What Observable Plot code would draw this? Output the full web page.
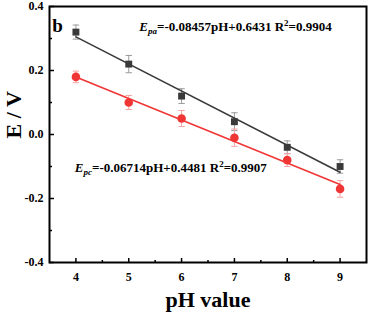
<!DOCTYPE html>
<html>
<head>
<meta charset="utf-8">
<script src="https://cdn.jsdelivr.net/npm/d3@7"></script>
<script src="https://cdn.jsdelivr.net/npm/@observablehq/plot@0.6"></script>
<style>
  html, body { margin: 0; padding: 0; background: #fff; }
  #chart { width: 370px; height: 314px; }
</style>
</head>
<body>
<div id="chart"></div>
<script>
// ---- data ----
const pH = [4, 5, 6, 7, 8, 9];
const epa = [0.32, 0.22, 0.12, 0.04, -0.04, -0.10];
const epaErr = [0.022, 0.027, 0.023, 0.028, 0.020, 0.021];
const epc = [0.18, 0.10, 0.05, -0.01, -0.08, -0.17];
const epcErr = [0.018, 0.022, 0.025, 0.027, 0.020, 0.026];

const fitX = [4, 9];
const fitPa = [0.305, -0.118];
const fitPc = [0.180, -0.156];

const xTicks = [4, 5, 6, 7, 8, 9];
const xMinor = [4.5, 5.5, 6.5, 7.5, 8.5];
const yTicks = [-0.4, -0.2, 0.0, 0.2, 0.4];
const yMinor = [-0.3, -0.1, 0.1, 0.3];

const eqSub = ["pa", "pc"];
const eqFormula = ["=-0.08457pH+0.6431", "=-0.06714pH+0.4481"];
const eqR2 = ["0.9904", "0.9907"];
const eqX = [5.2, 3.98];
const eqY = [0.338, -0.104];

const panelLabel = "b";
const xLabel = "pH value";
const yLabel = "E / V";

// ---- build tables ----
const pa = pH.map((x, i) => ({x, y: epa[i], e: epaErr[i]}));
const pc = pH.map((x, i) => ({x, y: epc[i], e: epcErr[i]}));
const fitA = fitX.map((x, i) => ({x, y: fitPa[i]}));
const fitC = fitX.map((x, i) => ({x, y: fitPc[i]}));
const eqs = eqSub.map((s, i) => ({x: eqX[i], y: eqY[i], sub: s, f: eqFormula[i], r2: eqR2[i]}));

const capSym = {draw(ctx, size) { const r = 3.2; ctx.moveTo(-r, 0); ctx.lineTo(r, 0); }};
const upTickMaj = {draw(ctx) { ctx.moveTo(0, 0); ctx.lineTo(0, -4.5); }};
const upTickMin = {draw(ctx) { ctx.moveTo(0, 0); ctx.lineTo(0, -2.5); }};
const rtTickMaj = {draw(ctx) { ctx.moveTo(0, 0); ctx.lineTo(4.5, 0); }};
const rtTickMin = {draw(ctx) { ctx.moveTo(0, 0); ctx.lineTo(2.5, 0); }};

const black = "#3a3a3a";
const red = "#f03535";
const FONT = "'Liberation Serif', 'Times New Roman', serif";

const errMarks = (data, color) => [
  Plot.ruleX(data, {x: "x", y1: d => d.y - d.e, y2: d => d.y + d.e, stroke: color, strokeWidth: 1}),
  Plot.dot(data, {x: "x", y: d => d.y + d.e, symbol: capSym, stroke: color, strokeWidth: 1, fill: "none"}),
  Plot.dot(data, {x: "x", y: d => d.y - d.e, symbol: capSym, stroke: color, strokeWidth: 1, fill: "none"})
];

const chart = Plot.plot({
  width: 370,
  height: 314,
  marginLeft: 49,
  marginRight: 4,
  marginTop: 6,
  marginBottom: 52,
  style: {fontFamily: FONT, background: "#fff", overflow: "visible"},
  x: {domain: [3.5, 9.5]},
  y: {domain: [-0.4, 0.4]},
  marks: [
    Plot.axisX({ticks: xTicks, tickSize: 0, tickPadding: 10, fontSize: 12, fontWeight: "bold", fill: "#000", label: null, tickFormat: d => String(d)}),
    Plot.axisY({ticks: yTicks, tickSize: 0, tickPadding: 6, fontSize: 12, fontWeight: "bold", fill: "#000", label: null, tickFormat: d => d.toFixed(1)}),
    Plot.dot(xTicks, {x: d => d, y: -0.4, symbol: upTickMaj, stroke: "#000", strokeWidth: 1.5, fill: "none"}),
    Plot.dot(xMinor, {x: d => d, y: -0.4, symbol: upTickMin, stroke: "#000", strokeWidth: 1.5, fill: "none"}),
    Plot.dot(yTicks, {x: 3.5, y: d => d, symbol: rtTickMaj, stroke: "#000", strokeWidth: 1.5, fill: "none"}),
    Plot.dot(yMinor, {x: 3.5, y: d => d, symbol: rtTickMin, stroke: "#000", strokeWidth: 1.5, fill: "none"}),
    ...errMarks(pa, "#9a9a9a"),
    ...errMarks(pc, "#f5a3a3"),
    Plot.line(fitA, {x: "x", y: "y", stroke: black, strokeWidth: 1.6}),
    Plot.line(fitC, {x: "x", y: "y", stroke: red, strokeWidth: 1.6}),
    Plot.dot(pa, {x: "x", y: "y", symbol: "square", r: 3.9, fill: black, stroke: "none"}),
    Plot.dot(pc, {x: "x", y: "y", symbol: "circle", r: 4.3, fill: red, stroke: "none"}),
    Plot.text(eqs, {x: "x", y: "y", text: d => "E" + d.sub + d.f + " R2=" + d.r2, textAnchor: "start", fontSize: 13, fontWeight: "bold", fill: "#000"}),
    Plot.text([panelLabel], {x: 3.55, y: 0.34, text: d => d, textAnchor: "start", fontSize: 19, fontWeight: "bold", fill: "#000"}),
    Plot.text([xLabel], {frameAnchor: "bottom", dy: 44, text: d => d, fontSize: 22, fontWeight: "bold", fill: "#000"}),
    Plot.text([yLabel], {frameAnchor: "left", dx: -36, dy: 4, rotate: -90, text: d => d, fontSize: 22, fontWeight: "bold", fill: "#000"}),
    Plot.frame({stroke: "#000", strokeWidth: 2})
  ]
});

// rich text for the fit equations (italic E with subscript, R with superscript)
d3.select(chart).selectAll("text").each(function () {
  const el = d3.select(this);
  const t = this.textContent;
  const eq = eqs.find(e => t === "E" + e.sub + e.f + " R2=" + e.r2);
  if (!eq) return;
  el.text(null);
  el.append("tspan").attr("font-style", "italic").text("E");
  el.append("tspan").attr("font-style", "italic").attr("font-size", 9).attr("dy", 3).text(eq.sub);
  el.append("tspan").attr("dy", -3).text(eq.f + " R");
  el.append("tspan").attr("font-size", 9).attr("dy", -5).text("2");
  el.append("tspan").attr("dy", 5).text("=" + eq.r2);
});

document.getElementById("chart").appendChild(chart);
</script>
</body>
</html>
